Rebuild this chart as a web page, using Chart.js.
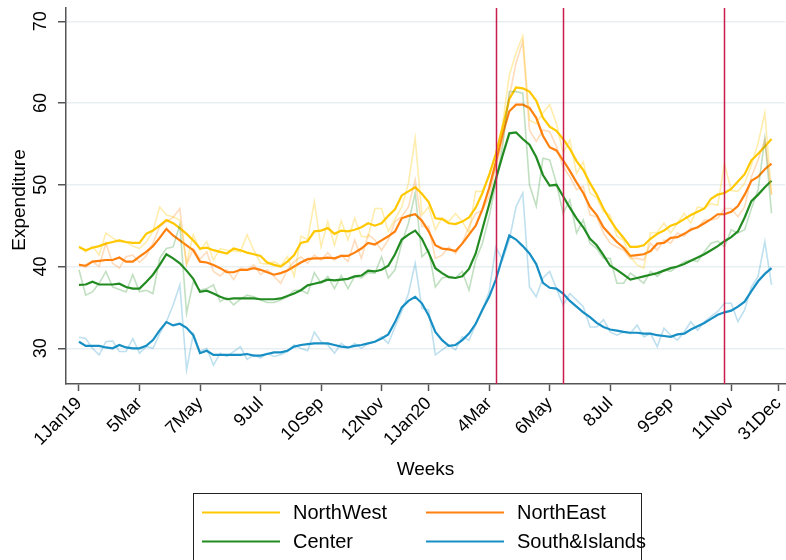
<!DOCTYPE html>
<html>
<head>
<meta charset="utf-8">
<script src="https://cdn.jsdelivr.net/npm/chart.js@4.4.1/dist/chart.umd.min.js"></script>
<style>
  html, body { margin: 0; padding: 0; background: #ffffff; }
  #wrap { width: 786px; height: 560px; }
</style>
</head>
<body>
<div id="wrap"><canvas id="c" width="786" height="560"></canvas></div>
<script>
// Weekly index: week 0 = 1 Jan 2019, 52 weeks per year.
const weekTicks = [0, 9, 18, 27, 36, 45, 52, 61, 70, 79, 88, 97, 104];
const weekTickLabels = ['1Jan19', '5Mar', '7May', '9Jul', '10Sep', '12Nov', '1Jan20',
                        '4Mar', '6May', '8Jul', '9Sep', '11Nov', '31Dec'];
const yTicks = [30, 40, 50, 60, 70];
const policyWeeks = [62, 72, 96];
const regions = ['NorthWest', 'NorthEast', 'Center', 'South&Islands'];

const northWestRaw = [
  42.5, 41.8, 42.5, 41.4, 44.1, 43.5, 43.0, 43.0, 42.5, 42.2,
  43.0, 44.3, 47.3, 46.3, 46.1, 45.7, 40.4, 43.9, 42.0, 43.05,
  40.8, 42.2, 42.0, 41.9, 41.8, 43.9, 42.0, 40.4, 40.3, 40.6,
  40.1, 41.2, 38.8, 43.7, 43.3, 47.9, 42.4, 45.5, 42.6, 45.6,
  43.25, 45.9, 43.7, 43.6, 47.1, 47.1, 44.3, 45.8, 47.3, 50.2,
  55.7, 46.3, 47.3, 44.5, 46.0, 45.5, 46.5, 45.5, 44.1, 49.2,
  49.2, 51.0, 53.7, 57.5, 63.4, 66.1, 68.2, 57.9, 57.5, 58.8,
  59.8, 57.5, 53.9, 55.5, 51.4, 52.8, 49.0, 48.4, 46.7, 46.3,
  43.7, 43.2, 41.2, 40.2, 39.8, 44.1, 44.2, 45.3, 44.1, 45.3,
  46.5, 45.3, 47.3, 47.1, 47.7, 47.5, 52.6, 49.3, 49.2, 50.2,
  52.4, 55.1, 58.8, 48.8
];
const northEastRaw = [
  40.3, 39.9, 40.6, 40.0, 42.85, 40.4, 39.8, 41.2, 41.4, 40.5,
  41.3, 42.85, 44.9, 45.5, 46.0, 47.1, 40.2, 42.2, 40.9, 41.8,
  39.4, 38.85, 39.6, 38.4, 39.8, 39.6, 40.2, 39.0, 39.6, 38.8,
  37.95, 39.6, 40.6, 41.2, 40.4, 41.4, 40.8, 41.7, 40.8, 41.4,
  40.6, 43.25, 41.0, 43.9, 43.25, 42.0, 43.25, 45.5, 46.1, 47.3,
  50.6, 44.9, 44.9, 41.0, 41.4, 42.4, 41.6, 42.85, 44.9, 46.5,
  46.9, 48.55, 52.2, 55.3, 60.8, 64.9, 67.5, 56.7, 55.3, 56.7,
  56.5, 54.7, 52.2, 51.0, 49.4, 49.8, 46.3, 46.1, 44.1, 42.85,
  42.4, 42.0, 41.0, 41.0, 40.8, 42.85, 42.0, 43.25, 42.85, 44.1,
  43.7, 44.7, 44.7, 45.7, 45.7, 45.9, 47.1, 47.1, 46.1, 47.3,
  51.0, 53.05, 55.5, 48.8
];
const centerRaw = [
  39.6, 36.5, 36.9, 37.95, 39.4, 37.5, 37.2, 36.9, 39.0, 36.9,
  37.1, 36.7, 41.0, 42.2, 42.4, 45.1, 34.3, 38.15, 37.1, 37.3,
  37.75, 35.7, 36.2, 35.3, 36.0, 36.5, 36.3, 35.9, 35.6, 35.6,
  35.9, 36.3, 37.1, 37.1, 36.7, 39.25, 37.95, 38.8, 37.3, 38.9,
  37.3, 38.8, 38.6, 39.25, 39.2, 41.2, 38.6, 39.6, 42.85, 45.3,
  49.0, 41.2, 42.0, 37.5, 38.6, 38.8, 38.6, 39.4, 37.1, 40.8,
  42.85, 46.1, 50.2, 54.7, 61.4, 61.4, 61.2, 50.0, 47.4, 53.25,
  53.05, 50.2, 46.5, 48.15, 44.1, 45.7, 42.85, 42.2, 41.0, 41.0,
  37.95, 37.95, 39.2, 38.6, 37.95, 39.4, 38.8, 39.6, 39.4, 40.0,
  40.6, 40.8, 40.6, 41.8, 42.85, 43.1, 42.4, 44.5, 44.1, 44.5,
  47.1, 49.4, 55.7, 46.5
];
const southRaw = [
  31.35, 31.2, 30.0, 29.2, 30.8, 30.9, 29.6, 29.6, 31.2, 29.4,
  30.2, 30.0, 31.8, 33.25, 35.3, 37.75, 27.35, 31.75, 29.6, 30.0,
  27.95, 29.4, 29.0, 29.6, 30.2, 28.65, 29.2, 28.8, 29.4, 29.0,
  29.2, 29.6, 30.4, 30.0, 29.7, 32.0, 30.8, 30.4, 29.4, 30.6,
  30.0, 30.6, 30.0, 30.6, 30.8, 31.4, 30.6, 32.6, 34.5, 36.7,
  40.4, 34.9, 34.7, 29.2, 29.8, 30.4, 29.8, 31.4, 31.0, 32.85,
  34.7, 36.9, 42.4, 40.8, 43.25, 47.3, 49.0, 37.5, 36.3, 38.6,
  39.4, 37.3, 35.3, 36.7, 35.9, 35.1, 32.6, 32.6, 33.5, 32.0,
  31.6, 32.0, 31.8, 32.85, 31.4, 31.8, 30.2, 32.45, 31.6, 31.0,
  32.0, 33.25, 32.2, 33.25, 33.9, 34.5, 35.5, 35.5, 33.25, 34.7,
  37.5, 38.8, 43.05, 37.75
];

const northWestSmooth = [
  42.4, 42.0, 42.3, 42.5, 42.8, 43.0, 43.2, 43.0, 42.9, 42.9,
  44.0, 44.4, 45.0, 45.7, 45.3, 44.7, 44.0, 43.2, 42.2, 42.3,
  42.0, 41.8, 41.6, 42.2, 42.0, 41.7, 41.5, 41.3, 40.5, 40.2,
  40.0, 40.6, 41.4, 42.9, 43.1, 44.3, 44.4, 44.7, 44.0, 44.4,
  44.3, 44.5, 44.8, 45.3, 45.0, 45.3, 46.2, 47.0, 48.7, 49.2,
  49.7, 48.9, 47.9, 45.9, 45.8, 45.3, 45.2, 45.5, 46.0, 47.2,
  49.0, 51.2, 53.8, 57.0, 60.5, 61.9, 61.8, 61.4, 60.3, 58.2,
  57.1, 56.6, 55.6, 54.4, 52.9, 51.8, 50.2, 48.8, 47.1, 45.7,
  44.5, 43.5, 42.4, 42.4, 42.6, 43.4, 44.0, 44.4, 45.0, 45.3,
  45.8, 46.3, 46.7, 47.1, 48.3, 48.8, 49.0, 49.5, 50.4, 51.3,
  53.0, 53.8, 54.7, 55.6
];
const northEastSmooth = [
  40.2, 40.1, 40.6, 40.7, 40.8, 40.8, 41.1, 40.6, 40.6, 41.2,
  41.8, 42.5, 43.5, 44.6, 43.8, 43.2, 42.6, 42.0, 40.6, 40.5,
  40.2, 39.8, 39.3, 39.3, 39.6, 39.6, 39.8, 39.6, 39.3, 39.0,
  39.2, 39.5, 40.0, 40.5, 40.9, 41.0, 41.0, 41.1, 41.0, 41.3,
  41.3, 41.7, 42.2, 42.9, 42.7, 43.2, 43.7, 44.3, 45.9, 46.2,
  46.4, 45.6, 44.3, 42.6, 42.2, 42.1, 41.9, 42.8, 43.9, 45.0,
  47.0, 49.6, 52.8, 56.2, 59.0, 59.8, 59.8, 59.4, 58.2, 56.0,
  54.6, 54.2, 53.0, 51.7, 50.3, 49.0, 47.3, 46.3, 44.8, 43.9,
  43.0, 42.3, 41.3, 41.4, 41.5, 41.9, 42.8, 42.9, 43.5, 43.6,
  44.0, 44.5, 44.8, 45.3, 45.8, 46.4, 46.4, 46.7, 47.4, 48.8,
  50.5, 51.0, 51.9, 52.6
];
const centerSmooth = [
  37.75, 37.8, 38.15, 37.8, 37.8, 37.8, 37.9, 37.5, 37.3, 37.3,
  38.1, 39.0, 40.2, 41.5, 41.0, 40.4, 39.5, 38.5, 36.9, 37.05,
  36.7, 36.3, 36.0, 36.1, 36.1, 36.1, 36.1, 36.0, 36.0, 36.0,
  36.1, 36.4, 36.7, 37.1, 37.7, 37.9, 38.1, 38.4, 38.3, 38.4,
  38.5, 38.8, 38.9, 39.5, 39.4, 39.6, 40.1, 41.5, 43.3, 43.9,
  44.4, 43.4, 41.7, 39.8, 39.2, 38.7, 38.6, 38.8, 39.7, 41.6,
  44.6, 47.6, 50.7, 53.6, 56.3, 56.4, 55.6, 54.9, 53.4, 51.2,
  49.9, 50.0, 48.6, 47.2, 45.9, 44.8, 43.4, 42.6, 41.4, 40.1,
  39.6, 39.0, 38.4, 38.6, 38.8, 39.0, 39.2, 39.5, 39.8, 40.0,
  40.3, 40.7, 41.1, 41.5, 42.0, 42.5, 43.1, 43.6, 44.3, 46.0,
  48.0, 48.8, 49.7, 50.5
];
const southSmooth = [
  30.8, 30.3, 30.3, 30.3, 30.1, 30.0, 30.4, 30.1, 30.0, 30.0,
  30.3, 31.0, 32.2, 33.2, 32.8, 33.0, 32.5, 31.6, 29.4, 29.7,
  29.2, 29.2, 29.2, 29.2, 29.2, 29.3, 29.1, 29.1, 29.3, 29.5,
  29.5, 29.7, 30.2, 30.4, 30.5, 30.6, 30.6, 30.6, 30.4, 30.2,
  30.1, 30.3, 30.4, 30.6, 30.8, 31.2, 31.7, 33.2, 35.0, 35.8,
  36.3, 35.5, 34.0, 32.0, 31.0, 30.3, 30.4, 31.0, 31.8, 33.0,
  34.7, 36.3, 38.4, 41.2, 43.8, 43.3, 42.5, 41.6, 40.3, 38.0,
  37.4, 37.3, 36.7, 35.8, 35.1, 34.4, 33.8, 33.1, 32.6, 32.3,
  32.15, 32.0, 31.9, 31.9, 31.8, 31.8, 31.6, 31.5, 31.4, 31.7,
  31.8, 32.3, 32.7, 33.1, 33.6, 34.1, 34.4, 34.6, 35.1, 35.7,
  37.0, 38.2, 39.1, 39.8
];

const regionColors = ['rgb(255,200,0)', 'rgb(255,128,14)', 'rgb(34,139,34)', 'rgb(24,143,196)'];
const rawColors = ['rgba(255,200,0,0.32)', 'rgba(255,128,14,0.28)', 'rgba(34,139,34,0.28)', 'rgba(24,143,196,0.28)'];

const rawSeries = [northWestRaw, northEastRaw, centerRaw, southRaw];
const smoothSeries = [northWestSmooth, northEastSmooth, centerSmooth, southSmooth];

const toPoints = arr => arr.map((v, i) => ({ x: i, y: v }));

const datasets = [];
rawSeries.forEach((s, k) => datasets.push({
  label: regions[k] + ' (weekly)', data: toPoints(s),
  borderColor: rawColors[k], borderWidth: 1.6, pointRadius: 0, tension: 0, fill: false
}));
smoothSeries.forEach((s, k) => datasets.push({
  label: regions[k], data: toPoints(s),
  borderColor: regionColors[k], borderWidth: 2.2, pointRadius: 0, tension: 0, fill: false
}));

const FONT = '"Liberation Sans", Arial, Helvetica, sans-serif';

const decor = {
  id: 'decor',
  afterDatasetsDraw(chart) {
    const { ctx, chartArea, scales } = chart;
    ctx.save();
    ctx.strokeStyle = 'rgb(200,30,75)';
    ctx.lineWidth = 1.5;
    policyWeeks.forEach(w => {
      const x = Math.round(scales.x.getPixelForValue(w)) + 0.5;
      ctx.beginPath();
      ctx.moveTo(x, chartArea.top);
      ctx.lineTo(x, chartArea.bottom);
      ctx.stroke();
    });
    ctx.restore();
  },
  afterDraw(chart) {
    const { ctx, chartArea, scales } = chart;
    ctx.save();
    ctx.fillStyle = '#000';
    // y tick labels, vertical
    ctx.font = '18px ' + FONT;
    ctx.textAlign = 'center';
    ctx.textBaseline = 'middle';
    yTicks.forEach(v => {
      const y = scales.y.getPixelForValue(v);
      ctx.save();
      ctx.translate(41.5, y);
      ctx.rotate(-Math.PI / 2);
      ctx.fillText(String(v), 0, 0);
      ctx.restore();
    });
    // axis titles
    ctx.font = '19px ' + FONT;
    ctx.save();
    ctx.translate(19.5, (chartArea.top + chartArea.bottom) / 2 + 4);
    ctx.rotate(-Math.PI / 2);
    ctx.fillText('Expenditure', 0, 0);
    ctx.restore();
    ctx.fillText('Weeks', (chartArea.left + chartArea.right) / 2, 470);

    // legend
    const bx = 193.5, by = 493.5, bw = 448, bh = 80;
    ctx.fillStyle = '#fff';
    ctx.fillRect(bx, by, bw, bh);
    ctx.strokeStyle = '#222';
    ctx.lineWidth = 1;
    ctx.strokeRect(bx, by, bw, bh);
    const cols = [[202, 280, 293], [426, 504, 517]];
    const rows = [512.5, 541.5];
    ctx.font = '20px ' + FONT;
    ctx.textAlign = 'left';
    ctx.textBaseline = 'middle';
    regions.forEach((name, k) => {
      const c = cols[k % 2], r = rows[Math.floor(k / 2)];
      ctx.strokeStyle = regionColors[k];
      ctx.lineWidth = 2.2;
      ctx.beginPath();
      ctx.moveTo(c[0], r);
      ctx.lineTo(c[1], r);
      ctx.stroke();
      ctx.fillStyle = '#000';
      ctx.fillText(name, c[2], r + 1);
    });
    ctx.restore();
  }
};

new Chart(document.getElementById('c'), {
  type: 'line',
  data: { datasets },
  options: {
    responsive: false,
    animation: false,
    devicePixelRatio: 1,
    layout: { padding: { top: 8, right: 1, left: 0, bottom: 0 } },
    plugins: { legend: { display: false }, tooltip: { enabled: false } },
    scales: {
      x: {
        type: 'linear',
        min: -1.93,
        max: 105,
        afterBuildTicks: s => { s.ticks = weekTicks.map(v => ({ value: v })); },
        afterFit: s => { s.height = 176; s.paddingLeft = 0; s.paddingRight = 0; },
        ticks: {
          autoSkip: false,
          minRotation: 45,
          maxRotation: 45,
          padding: 2,
          color: '#000',
          font: { family: FONT, size: 18 },
          callback: v => weekTickLabels[weekTicks.indexOf(v)]
        },
        grid: { drawOnChartArea: false, tickLength: 7, tickColor: '#555', tickWidth: 1.5 },
        border: { display: true, color: '#555', width: 1.5 }
      },
      y: {
        min: 25.63,
        max: 71.63,
        afterBuildTicks: s => { s.ticks = yTicks.map(v => ({ value: v })); },
        afterFit: s => { s.width = 66; s.paddingTop = 0; s.paddingBottom = 0; },
        ticks: { display: false },
        grid: { color: '#e8eff2', lineWidth: 1.5, tickLength: 8, tickColor: '#555', tickWidth: 1.5 },
        border: { display: true, color: '#555', width: 1.5 }
      }
    }
  },
  plugins: [decor]
});
</script>
</body>
</html>
